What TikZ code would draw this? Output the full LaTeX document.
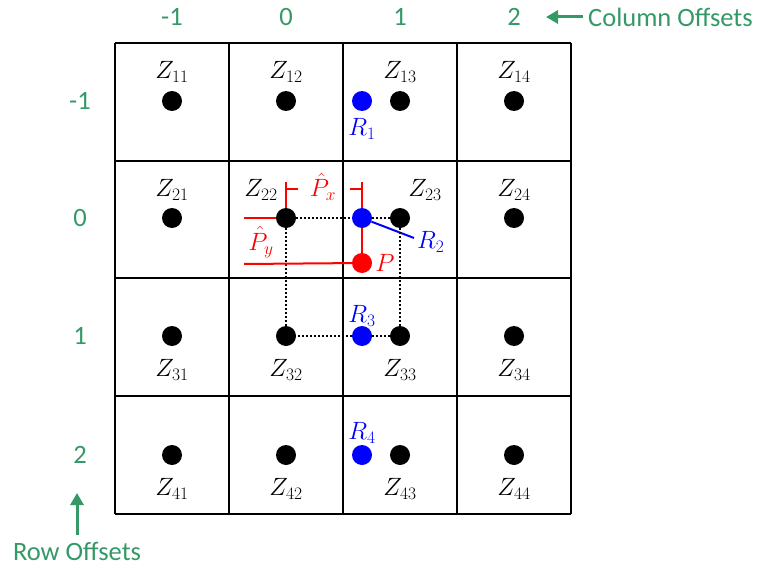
\documentclass[tikz,border=0pt]{standalone}
\usepackage{fix-cm}
\usepackage{fontspec}
\setmainfont{Carlito}
\usepackage{xcolor}
\definecolor{offGreen}{RGB}{52,153,102}
\usetikzlibrary{arrows.meta, positioning, calc}
\tikzset{
	pointdot/.style={circle, fill=#1, inner sep=0pt, minimum size=20pt},
	pointdot/.default=black,
	zlab/.style={font=\fontsize{25}{29}\selectfont, inner sep=1pt},
	offlab/.style={font=\fontsize{26.5}{30}\selectfont, text=offGreen, inner sep=3pt},
	gridline/.style={line width=1.8pt},
	pathline/.style={line width=1.6pt, dash pattern=on 2pt off 2pt},
	redline/.style={red, line width=2pt},
	greenarr/.style={-{Triangle[length=12pt, width=13pt]}, offGreen, line width=3pt},
}

\begin{document}
\begin{tikzpicture}[x=1pt, y=-1pt]
	\useasboundingbox (0,0) rectangle (757,567);

	% Grid of cells
	\foreach \x in {115,229,343,457,571} {
		\draw[gridline] (\x,43) -- (\x,514);
	}
	\foreach \y in {43,161,278,396,514} {
		\draw[gridline] (115,\y) -- (571,\y);
	}

	% Cell centres
	\foreach \r/\y in {1/101,2/218,3/336,4/455} {
		\foreach \c/\x in {1/172,2/286,3/400,4/514} {
			\node[pointdot] (z\r\c) at (\x,\y) {};
		}
	}

	% Labels of the cell centres
	\foreach \c in {1,...,4} {
		\node[zlab] (lz1\c) at ($(z1\c)+(0,-29)$) {$Z_{1\c}$};
		\node[zlab] (lz3\c) at ($(z3\c)+(0,34)$) {$Z_{3\c}$};
		\node[zlab] (lz4\c) at ($(z4\c)+(0,34)$) {$Z_{4\c}$};
	}
	\node[zlab] (lz21) at ($(z21)+(0,-28)$) {$Z_{21}$};
	\node[zlab] (lz22) at ($(z22)+(-25,-28)$) {$Z_{22}$};
	\node[zlab] (lz23) at ($(z23)+(25,-28)$) {$Z_{23}$};
	\node[zlab] (lz24) at ($(z24)+(0,-28)$) {$Z_{24}$};

	% Sample points
	\node[pointdot=blue] (r1) at (362,101) {};
	\node[pointdot=blue] (r2) at (362,218) {};
	\node[pointdot=blue] (r3) at (362,336) {};
	\node[pointdot=blue] (r4) at (362,455) {};
	\node[pointdot=red] (p) at (362,263) {};

	\node[zlab, text=blue] (lr1) at ($(r1)+(0,28)$) {$R_1$};
	\node[zlab, text=blue] (lr3) at ($(r3)+(0,-20)$) {$R_3$};
	\node[zlab, text=blue] (lr4) at ($(r4)+(0,-22)$) {$R_4$};
	\coordinate (r2end) at (414,238);
	\draw[blue, line width=2pt] (r2) -- (r2end);
	\node[zlab, text=blue, anchor=west] (lr2) at (416,242) {$R_2$};

	% Interpolation square
	\draw[pathline] (z22) -- (r2) -- (z23) -- (z33) -- (r3) -- (z32) -- (z22);

	% Offsets of P
	\coordinate (pxleft) at (244,218);
	\coordinate (pyleft) at (244,264);
	\coordinate (bx1) at (286,182);
	\coordinate (bx2) at (362,182);
	\draw[redline] (pxleft) -- (z22);
	\draw[redline] (pyleft) -- (p);
	\draw[redline] (r2) -- (p);
	\draw[redline] (z22.north) -- (bx1) ++(0,7) -- ++(12,0);
	\draw[redline] (r2.north) -- (bx2) ++(0,7) -- ++(-12,0);
	\node[zlab, text=red] (lpx) at (323,187) {$\hat{P}_x$};
	\node[zlab, text=red] (lpy) at (261,242) {$\hat{P}_y$};
	\node[zlab, text=red, right=2pt of p] (lp) {$P$};

	% Column offsets
	\foreach \c/\x/\t in {1/172/-1,2/286/0,3/400/1,4/514/2} {
		\node[offlab] (col\c) at (\x,17) {\t};
	}
	\node[offlab, anchor=west] (coltitle) at (585,17) {Column Offsets};
	\coordinate (colarr) at (546,17);
	\draw[greenarr, shorten <=2pt] (coltitle.west) -- (colarr);

	% Row offsets
	\foreach \r/\y/\t in {1/101/-1,2/218/0,3/336/1,4/455/2} {
		\node[offlab] (row\r) at (80,\y) {\t};
	}
	\node[offlab] (rowtitle) at (77,551) {Row Offsets};
	\coordinate (rowarr) at (77,493);
	\draw[greenarr, shorten <=4pt] (rowtitle.north) -- (rowarr);
\end{tikzpicture}
\end{document}
